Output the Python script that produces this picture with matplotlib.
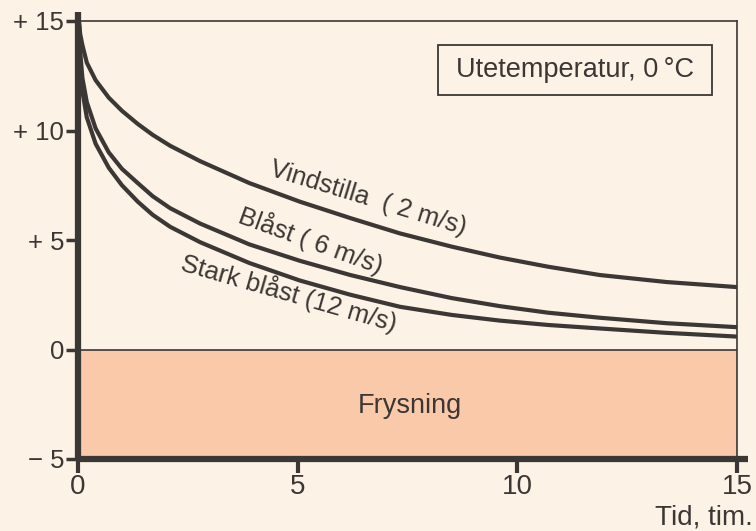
import matplotlib
matplotlib.use("Agg")
import matplotlib.pyplot as plt
from matplotlib.patches import Rectangle

plt.rcParams['font.family'] = ['Liberation Sans', 'DejaVu Sans']

# Data
hours = [0.02, 0.05, 0.1, 0.2, 0.4, 0.7, 1.0, 1.36, 1.7, 2.1, 2.78, 3.9, 5.05, 6.2, 7.33, 8.5, 9.6, 10.7, 11.88, 13.4, 15]
vindstilla = [15, 14.4, 13.9, 13.1, 12.3, 11.5, 10.9, 10.3, 9.8, 9.3, 8.6, 7.6, 6.75, 6.0, 5.3, 4.7, 4.2, 3.78, 3.4, 3.08, 2.85]
blast = [15, 13.6, 12.4, 11.3, 10.1, 9.0, 8.25, 7.6, 7.0, 6.45, 5.75, 4.8, 4.05, 3.4, 2.85, 2.35, 1.98, 1.68, 1.45, 1.2, 1.02]
stark_blast = [15, 13.2, 11.8, 10.6, 9.4, 8.3, 7.5, 6.75, 6.15, 5.6, 4.9, 3.95, 3.15, 2.5, 1.95, 1.58, 1.32, 1.12, 0.96, 0.76, 0.59]

x_ticks = [0, 5, 10, 15]
y_ticks = [-5, 0, 5, 10, 15]
y_tick_labels = ['\u2212 5', '0', '+ 5', '+ 10', '+ 15']
curve_labels = ['Vindstilla  ( 2 m/s)', 'Blåst ( 6 m/s)', 'Stark blåst (12 m/s)']

BG = '#fcf2e6'
SALMON = '#f9c9a9'
INK = '#3b3735'

fig = plt.figure(figsize=(7.56, 5.31), dpi=100, facecolor=BG)
ax = fig.add_axes([78/756, 1-459/531, (737-78)/756, (459-21)/531])
ax.set_facecolor(BG)
ax.set_xlim(0, 15)
ax.set_ylim(-5, 15)
for s in ax.spines.values():
    s.set_visible(False)

# freezing zone
ax.axhspan(-5, 0, color=SALMON, zorder=0, lw=0)
# thin frame lines
ax.plot([0, 15], [0, 0], color=INK, lw=1.2, zorder=2)
ax.plot([0, 15], [15, 15], color=INK, lw=1.2, zorder=2, clip_on=False)
ax.plot([15, 15], [-5, 15], color=INK, lw=1.2, zorder=2, clip_on=False)
# thick axes
ax.plot([0, 0], [-5, 15.4], color=INK, lw=4.5, zorder=4, clip_on=False, solid_capstyle='butt')
ax.plot([-0.05, 15.25], [-5, -5], color=INK, lw=4.5, zorder=4, clip_on=False, solid_capstyle='butt')

# curves
for ys in (vindstilla, blast, stark_blast):
    ax.plot(hours, ys, color=INK, lw=3.0, zorder=3, solid_capstyle='round', solid_joinstyle='round')

ax.set_xticks(x_ticks)
ax.set_xticklabels([str(t) for t in x_ticks])
ax.set_yticks(y_ticks)
ax.set_yticklabels(y_tick_labels)
ax.tick_params(axis='x', direction='out', length=10, width=3, color=INK, labelsize=20, labelcolor=INK, pad=1)
ax.tick_params(axis='y', direction='out', length=9, width=2.5, color=INK, labelsize=18.5, labelcolor=INK, pad=1)

# curve labels
fs = 18.5
ax.text(6.6, 6.9, curve_labels[0], rotation=-17, ha='center', va='center', fontsize=fs, color=INK, rotation_mode='anchor')
ax.text(5.3, 5.0, curve_labels[1], rotation=-20, ha='center', va='center', fontsize=fs, color=INK, rotation_mode='anchor')
ax.text(4.8, 2.6, curve_labels[2], rotation=-16, ha='center', va='center', fontsize=fs, color=INK, rotation_mode='anchor')

ax.text(7.56, -2.56, 'Frysning', ha='center', va='center', fontsize=19.5, color=INK)

# legend box
ax.add_patch(Rectangle((8.19, 11.61), 14.43-8.19, 13.9-11.61, fill=False, ec=INK, lw=1.3, zorder=5))
ax.text(11.31, 12.76, 'Utetemperatur, 0\u2009°C', ha='center', va='center', fontsize=19.5, color=INK, zorder=6)

fig.text(753/756, 1-518/531, 'Tid, tim.', ha='right', va='center', fontsize=20, color=INK)

fig.savefig('out.png', dpi=100, facecolor=BG)
